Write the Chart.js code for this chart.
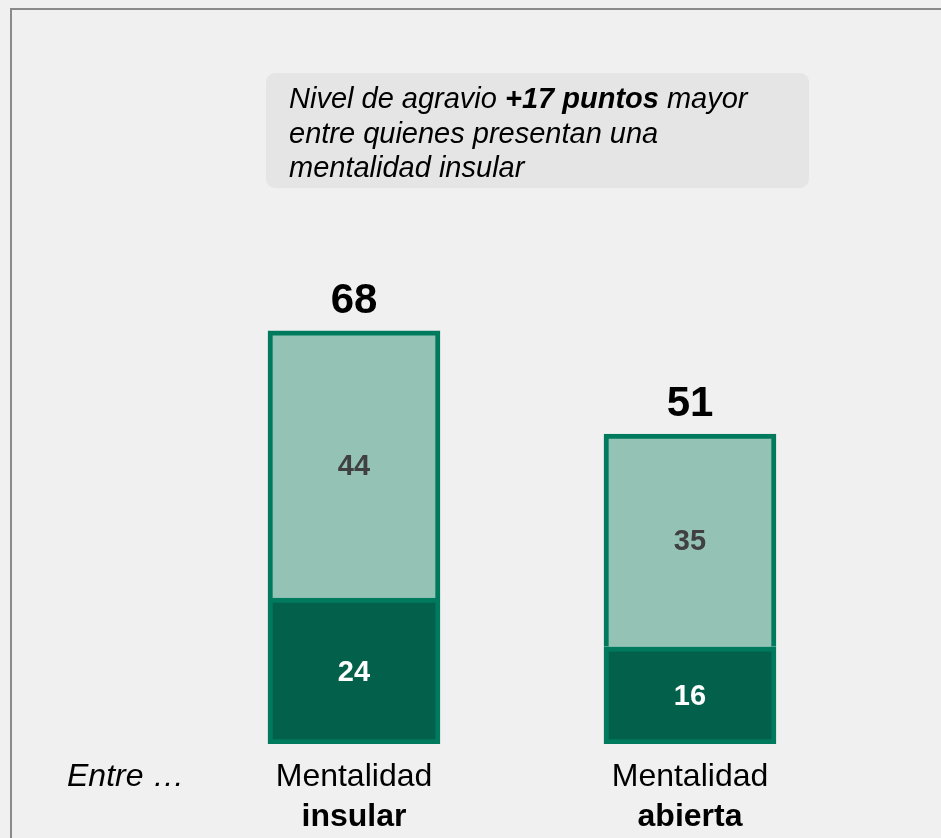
<!DOCTYPE html>
<html>
<head>
<meta charset="utf-8">
<script src="https://cdn.jsdelivr.net/npm/chart.js@4"></script>
<style>
    html, body { margin: 0; padding: 0; background: #f0f0f0; overflow: hidden; }
    #wrap { position: relative; width: 941px; height: 838px; }
    #frame { position: absolute; left: 10px; top: 8px; width: 960px; height: 900px; border: 2px solid #8a8a8a; box-sizing: border-box; }
    canvas { position: absolute; left: 0; top: 0; }
</style>
</head>
<body>
<div id="wrap">
    <div id="frame"></div>
    <canvas id="chart" width="941" height="838"></canvas>
</div>
<script>
const categorias = ['Mentalidad|insular', 'Mentalidad|abierta'];
const valoresBase = [24, 16];
const valoresSuperior = [44, 35];
const totales = [68, 51];
const notaLineas = [
    [['Nivel de agravio ', false], ['+17 puntos', true], [' mayor', false]],
    [['entre quienes presentan una', false]],
    [['mentalidad insular', false]]
];
const prefijo = 'Entre …';

const VERDE_BORDE = '#007a5d';
const VERDE_OSCURO = '#03614b';
const VERDE_CLARO = '#94c3b6';
const FUENTE = '"Liberation Sans", Arial, sans-serif';

const etiquetasPlugin = {
    id: 'etiquetas',
    afterDatasetsDraw(chart) {
        const ctx = chart.ctx;
        const x = chart.scales.x;
        ctx.save();

        // recuadro de la nota
        ctx.fillStyle = '#e5e5e5';
        ctx.beginPath();
        ctx.roundRect(266, 73, 543, 115, 9);
        ctx.fill();
        ctx.fillStyle = '#000';
        ctx.textAlign = 'left';
        ctx.textBaseline = 'alphabetic';
        notaLineas.forEach(function (linea, i) {
            let cx = 289;
            linea.forEach(function (parte) {
                ctx.font = 'italic ' + (parte[1] ? 'bold ' : '') + '29px ' + FUENTE;
                ctx.fillText(parte[0], cx, 108 + i * 34.5);
                cx += ctx.measureText(parte[0]).width;
            });
        });

        // valores de los segmentos
        [0, 1].forEach(function (d) {
            const meta = chart.getDatasetMeta(d);
            meta.data.forEach(function (bar, i) {
                const v = chart.data.datasets[d].data[i];
                ctx.font = 'bold 29px ' + FUENTE;
                ctx.textAlign = 'center';
                ctx.textBaseline = 'middle';
                ctx.fillStyle = d === 0 ? '#ffffff' : '#404040';
                ctx.fillText(String(v), bar.x, (bar.y + bar.base) / 2 + 2);
            });
        });

        // totales
        const top = chart.getDatasetMeta(1);
        top.data.forEach(function (bar, i) {
            ctx.font = 'bold 42px ' + FUENTE;
            ctx.textAlign = 'center';
            ctx.textBaseline = 'alphabetic';
            ctx.fillStyle = '#000';
            ctx.fillText(String(totales[i]), bar.x, bar.y - 18);
        });

        // etiquetas de categoría
        categorias.forEach(function (c, i) {
            const partes = c.split('|');
            const px = x.getPixelForValue(i);
            ctx.textAlign = 'center';
            ctx.fillStyle = '#000';
            ctx.font = '32px ' + FUENTE;
            ctx.fillText(partes[0], px, 786);
            ctx.font = 'bold 32px ' + FUENTE;
            ctx.fillText(partes[1], px, 826);
        });
        ctx.textAlign = 'left';
        ctx.font = 'italic 32px ' + FUENTE;
        ctx.fillText(prefijo, 67, 786);

        ctx.restore();
    }
};

new Chart(document.getElementById('chart'), {
    type: 'bar',
    data: {
        labels: categorias,
        datasets: [{
            data: valoresBase,
            backgroundColor: VERDE_OSCURO,
            borderColor: VERDE_BORDE,
            borderWidth: 5,
            borderSkipped: false
        }, {
            data: valoresSuperior,
            backgroundColor: VERDE_CLARO,
            borderColor: VERDE_BORDE,
            borderWidth: 5,
            borderSkipped: 'bottom'
        }]
    },
    options: {
        responsive: false,
        animation: false,
        events: [],
        barThickness: 172,
        layout: {
            padding: { top: 258, bottom: 94, left: 186, right: 83 }
        },
        plugins: {
            legend: { display: false },
            tooltip: { enabled: false }
        },
        scales: {
            x: {
                stacked: true,
                display: false
            },
            y: {
                stacked: true,
                display: false,
                min: 0,
                max: 80
            }
        }
    },
    plugins: [etiquetasPlugin]
});
</script>
</body>
</html>
